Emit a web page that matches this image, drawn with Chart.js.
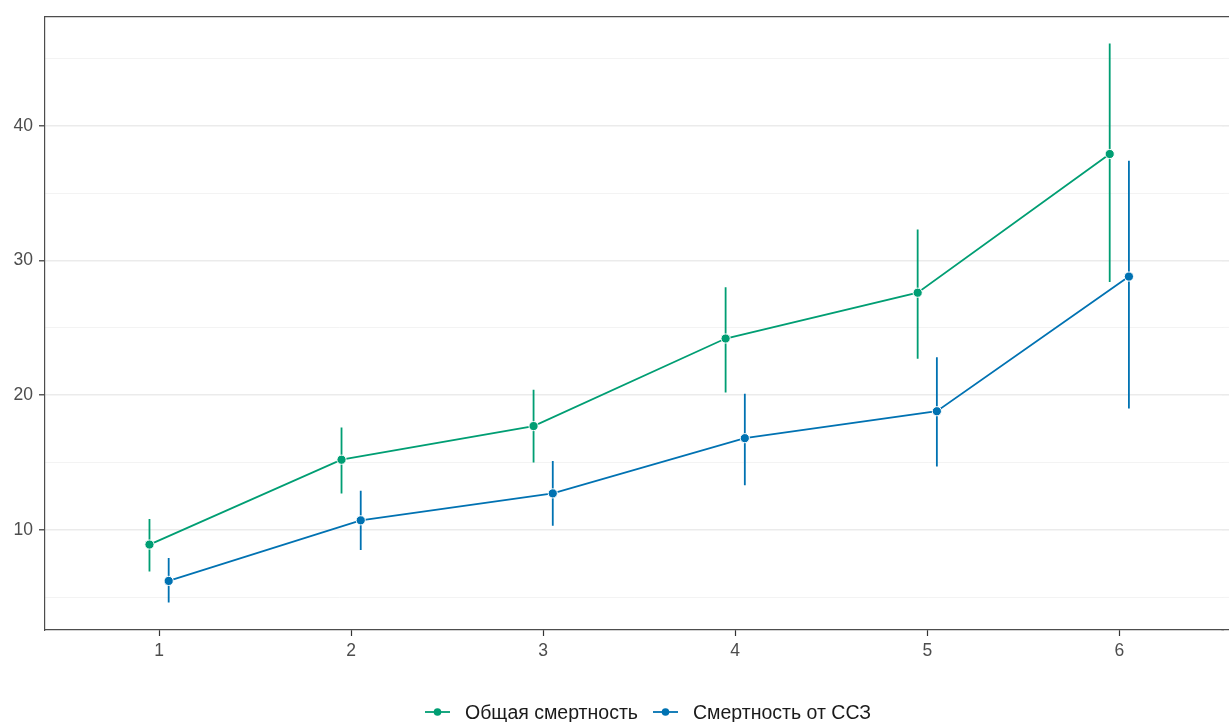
<!DOCTYPE html>
<html>
<head>
<meta charset="utf-8">
<script src="https://cdn.jsdelivr.net/npm/chart.js@4/dist/chart.umd.min.js"></script>
<style>
  html, body { margin: 0; padding: 0; background: #fff; overflow: hidden; }
  #wrap { position: relative; width: 1229px; height: 722px; }
  #legend {
    position: absolute; left: 425px; top: 699px; height: 26px; white-space: nowrap;
    display: flex; align-items: center;
    font-family: "Liberation Sans", Arial, sans-serif; font-size: 19.5px; color: #1a1a1a;
  }
  .item { display: flex; align-items: center; margin-right: 15px; }
  .item svg { margin-right: 15px; }
</style>
</head>
<body>
<div id="wrap">
  <canvas id="c" width="1229" height="722"></canvas>
  <div id="legend"></div>
</div>
<script>
// Groups 1..6 on the x axis
const groups = [1, 2, 3, 4, 5, 6];

// Overall mortality: estimate with lower / upper bounds
const totalLabel = 'Общая смертность';
const totalMean  = [8.9, 15.2, 17.7, 24.2, 27.6, 37.9];
const totalLow   = [6.9, 12.7, 15.0, 20.2, 22.7, 28.4];
const totalHigh  = [10.8, 17.6, 20.4, 28.0, 32.3, 46.1];

// Cardiovascular mortality: estimate with lower / upper bounds
const cvdLabel = 'Смертность от ССЗ';
const cvdMean  = [6.2, 10.7, 12.7, 16.8, 18.8, 28.8];
const cvdLow   = [4.6, 8.5, 10.3, 13.3, 14.7, 19.0];
const cvdHigh  = [7.9, 12.9, 15.1, 20.1, 22.8, 37.4];

// Tick labels
const xTicks = [1, 2, 3, 4, 5, 6];
const yTicks = [10, 20, 30, 40];
const yMinorTicks = [5, 15, 25, 35, 45];

const GREEN = '#009E73';
const BLUE = '#0072B2';
const DODGE = 0.05;
const FONT = '"Liberation Sans", Arial, sans-serif';
const MAJOR_GRID = '#EBEBEB', MINOR_GRID = '#F2F2F2';
const AXIS_LINE = '#4d4d4d';
const AXIS_W = 1.2;

function points(mean, shift) {
  return groups.map((g, i) => ({ x: g + shift, y: mean[i] }));
}
function whiskers(low, high, shift) {
  const out = [];
  groups.forEach((g, i) => {
    out.push({ x: g + shift, y: low[i] });
    out.push({ x: g + shift, y: high[i] });
    out.push({ x: g + shift, y: null });
  });
  return out;
}

const lineSet = (label, data, color) => ({
  label, data, borderColor: color, backgroundColor: color,
  borderWidth: 1.8, pointRadius: 4.6, pointBorderColor: '#fff', pointBorderWidth: 1,
  pointBackgroundColor: color, showLine: true, tension: 0, order: 1
});
const barSet = (label, data, color) => ({
  label, data, borderColor: color, borderWidth: 1.8, pointRadius: 0,
  showLine: true, spanGaps: false, tension: 0, order: 2
});

const allY = [...yTicks, ...yMinorTicks].sort((a, b) => a - b);
const isMajor = v => yTicks.includes(v);
// same pixel snapping Chart.js applies to axis lines
const align = (px, w) => Math.round(px - w / 2) + w / 2;

// The panel runs past the right edge of the canvas: carry grid lines,
// the top edge and the bottom axis line through to the border.
const panelEdge = {
  id: 'panelEdge',
  beforeDatasetsDraw(chart) {
    const { ctx, chartArea: a, scales: { y } } = chart;
    ctx.save();
    allY.forEach(v => {
      const w = isMajor(v) ? 1.6 : 0.9;
      const py = align(y.getPixelForValue(v), w);
      ctx.strokeStyle = isMajor(v) ? MAJOR_GRID : MINOR_GRID;
      ctx.lineWidth = w;
      ctx.beginPath();
      ctx.moveTo(a.right - 1, py);
      ctx.lineTo(chart.width, py);
      ctx.stroke();
    });
    ctx.restore();
  },
  afterDraw(chart) {
    const { ctx, chartArea: a } = chart;
    ctx.save();
    ctx.strokeStyle = AXIS_LINE;
    ctx.lineWidth = AXIS_W;
    ctx.beginPath();
    const top = align(a.top, AXIS_W);
    const bottom = align(a.bottom, AXIS_W);
    ctx.moveTo(a.left, top);
    ctx.lineTo(chart.width, top);
    ctx.moveTo(a.right - 2, bottom);
    ctx.lineTo(chart.width, bottom);
    ctx.stroke();
    ctx.restore();
  }
};

new Chart(document.getElementById('c'), {
  type: 'scatter',
  data: {
    datasets: [
      barSet('total-ci', whiskers(totalLow, totalHigh, -DODGE), GREEN),
      barSet('cvd-ci', whiskers(cvdLow, cvdHigh, DODGE), BLUE),
      lineSet(totalLabel, points(totalMean, -DODGE), GREEN),
      lineSet(cvdLabel, points(cvdMean, DODGE), BLUE)
    ]
  },
  options: {
    responsive: false,
    animation: false,
    clip: false,
    layout: { padding: { top: 15, right: 0, left: 0, bottom: 0 } },
    plugins: { legend: { display: false }, tooltip: { enabled: false } },
    scales: {
      x: {
        type: 'linear', min: 0.406, max: 6.542,
        afterFit(s) { s.height = 92; },
        afterBuildTicks(s) { s.ticks = xTicks.map(v => ({ value: v })); },
        grid: { drawOnChartArea: false, drawTicks: true, tickLength: 6, tickColor: '#333', tickWidth: 1.2 },
        border: { display: true, color: AXIS_LINE, width: AXIS_W },
        ticks: {
          padding: 5, color: '#4d4d4d', maxRotation: 0,
          font: { family: FONT, size: 17.5 },
          callback: v => String(v)
        }
      },
      y: {
        type: 'linear', min: 2.556, max: 48.11,
        afterFit(s) { s.width = 45; },
        afterBuildTicks(s) { s.ticks = allY.map(v => ({ value: v })); },
        grid: {
          drawTicks: true, tickLength: 6,
          color: c => isMajor(c.tick.value) ? MAJOR_GRID : MINOR_GRID,
          lineWidth: c => isMajor(c.tick.value) ? 1.6 : 0.9,
          tickColor: c => isMajor(c.tick.value) ? '#333' : 'rgba(0,0,0,0)',
          tickWidth: 1.2
        },
        border: { display: true, color: AXIS_LINE, width: AXIS_W },
        ticks: {
          padding: 6, color: '#4d4d4d',
          font: { family: FONT, size: 17.5 },
          callback: v => isMajor(v) ? String(v) : ''
        }
      }
    }
  },
  plugins: [panelEdge]
});

// Legend with line-and-point keys
const legend = document.getElementById('legend');
[[totalLabel, GREEN], [cvdLabel, BLUE]].forEach(([label, color]) => {
  const item = document.createElement('div');
  item.className = 'item';
  item.innerHTML =
    '<svg width="25" height="12"><line x1="0" y1="6" x2="25" y2="6" stroke="' + color +
    '" stroke-width="1.8"/><circle cx="12.5" cy="6" r="3.8" fill="' + color + '"/></svg>';
  const span = document.createElement('span');
  span.textContent = label;
  item.appendChild(span);
  legend.appendChild(item);
});
</script>
</body>
</html>
